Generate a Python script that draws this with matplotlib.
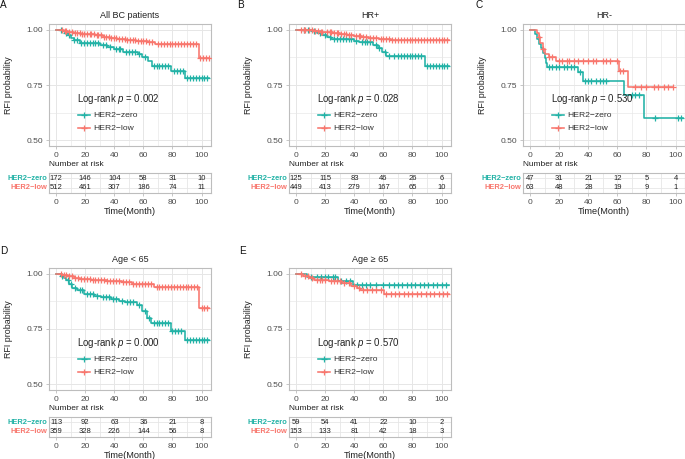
import matplotlib
matplotlib.use('Agg')
import matplotlib.pyplot as plt
import numpy as np
from matplotlib.transforms import blended_transform_factory

plt.rcParams['font.family'] = ['Liberation Sans', 'DejaVu Sans']
plt.rcParams['mathtext.fontset'] = 'custom'
plt.rcParams['mathtext.it'] = 'Liberation Sans:italic'
plt.rcParams['mathtext.rm'] = 'Liberation Sans'

ZERO_C = '#22B2A6'
LOW_C = '#F8766D'
GROUPS = ['HER2\u2212zero', 'HER2\u2212low']
RISK_TIMES = [0, 20, 40, 60, 80, 100]
X_TICKS = [0, 20, 40, 60, 80, 100]
Y_TICKS = [0.50, 0.75, 1.00]
Y_TICKLABELS = ['0.50', '0.75', '1.00']

# ---------------- Panel A: All BC patients ----------------
A_zero_t = [0, 4, 6, 8, 10, 12, 16, 30, 35, 40, 46, 56, 59, 63, 66, 79, 88.5]
A_zero_s = [1, 0.994, 0.985, 0.975, 0.964, 0.953, 0.941, 0.93, 0.921, 0.912, 0.897, 0.89, 0.877, 0.857, 0.836, 0.814, 0.781]
A_zero_end = 105
A_zero_cens = [3, 7, 9, 12, 14, 17, 19, 21, 23, 25, 27, 29, 32, 34, 37, 41, 43, 44, 48, 50, 52, 54, 57, 61, 67, 69, 71, 73, 75, 77, 81, 83, 85, 87, 90, 92, 94, 96, 98, 100, 102, 104]
A_low_t = [0, 5, 8, 12, 17, 22, 27, 32, 37, 42, 48, 55, 63, 68, 98.4]
A_low_s = [1, 0.995, 0.99, 0.986, 0.982, 0.978, 0.974, 0.968, 0.962, 0.957, 0.952, 0.948, 0.943, 0.937, 0.870]
A_low_end = 105
A_low_cens = [4, 6, 7, 9, 11, 13, 14, 16, 18, 19, 21, 23, 24, 26, 28, 29, 31, 33, 34, 36, 38, 40, 41, 43, 45, 47, 49, 51, 53, 54, 56, 58, 60, 62, 64, 66, 70, 72, 74, 76, 78, 80, 82, 84, 86, 88, 90, 92, 94, 96, 99, 101, 103, 105]
A_risk_zero = [172, 146, 104, 58, 31, 10]
A_risk_low = [512, 461, 307, 186, 74, 11]

# ---------------- Panel B: HR+ ----------------
B_zero_t = [0, 10, 14, 18, 21, 24, 40, 43, 53, 56, 59, 62, 88.4]
B_zero_s = [1, 0.992, 0.985, 0.977, 0.968, 0.957, 0.95, 0.942, 0.93, 0.917, 0.9, 0.882, 0.835]
B_zero_end = 105
B_zero_cens = [5, 8, 12, 16, 20, 23, 26, 28, 30, 32, 34, 36, 38, 41, 45, 47, 49, 51, 55, 57, 61, 64, 67, 70, 72, 74, 76, 78, 80, 82, 84, 86, 90, 92, 94, 96, 98, 100, 102, 104]
B_low_t = [0, 8, 12, 16, 20, 25, 30, 35, 40, 45, 50, 57, 65]
B_low_s = [1, 0.996, 0.993, 0.99, 0.987, 0.983, 0.98, 0.976, 0.972, 0.968, 0.963, 0.958, 0.953]
B_low_end = 105
B_low_cens = [3, 5, 6, 9, 11, 13, 15, 17, 18, 21, 23, 24, 26, 28, 29, 31, 33, 34, 36, 38, 41, 43, 44, 46, 48, 51, 53, 55, 58, 60, 62, 64, 66, 68, 70, 72, 74, 76, 78, 80, 82, 84, 86, 88, 90, 92, 94, 96, 98, 100, 102, 104]
B_risk_zero = [125, 115, 83, 46, 26, 6]
B_risk_low = [449, 413, 279, 167, 65, 10]

# ---------------- Panel C: HR- ----------------
C_zero_t = [0, 3.5, 4.5, 6, 7.5, 9, 10, 10.8, 11.6, 33, 36, 64.8, 78.5]
C_zero_s = [1, 0.979, 0.957, 0.936, 0.915, 0.894, 0.872, 0.851, 0.83, 0.807, 0.768, 0.704, 0.603]
C_zero_end = 105
C_zero_cens = [13, 15, 18, 20, 23, 25, 28, 30, 34, 38, 40, 42, 45, 48, 50, 52, 70, 72, 75, 86, 102, 104]
C_low_t = [0, 4.5, 5.8, 6.9, 8.8, 10.4, 12.7, 17.4, 61.3, 67.3]
C_low_s = [1, 0.984, 0.968, 0.94, 0.912, 0.891, 0.876, 0.856, 0.815, 0.742]
C_low_end = 98
C_low_cens = [6, 9, 13, 15, 20, 22, 25, 27, 30, 33, 36, 40, 43, 45, 50, 52, 55, 60, 62, 64, 72, 76, 80, 85, 88, 92, 95, 98]
C_risk_zero = [47, 31, 21, 12, 5, 4]
C_risk_low = [63, 48, 28, 19, 9, 1]

# ---------------- Panel D: Age < 65 ----------------
D_zero_t = [0, 3, 5, 7, 9, 11, 14.5, 19, 26, 30.6, 37.5, 43, 47, 55.8, 59.3, 62.7, 65, 78.8, 88.6]
D_zero_s = [1, 0.99, 0.98, 0.97, 0.955, 0.936, 0.924, 0.909, 0.901, 0.894, 0.886, 0.876, 0.871, 0.856, 0.833, 0.8, 0.776, 0.741, 0.70]
D_zero_end = 105
D_zero_cens = [4, 8, 10, 13, 16, 18, 21, 23, 25, 28, 32, 34, 36, 39, 41, 45, 49, 51, 53, 57, 61, 64, 67, 69, 71, 73, 75, 77, 80, 82, 84, 86, 90, 92, 94, 96, 98, 100, 102, 104]
D_low_t = [0, 4, 8, 12, 16, 24, 35, 45, 52, 67, 98.4]
D_low_s = [1, 0.995, 0.99, 0.982, 0.975, 0.97, 0.965, 0.96, 0.955, 0.938, 0.844]
D_low_end = 105
D_low_cens = [3, 5, 7, 9, 11, 13, 15, 17, 19, 21, 23, 25, 27, 29, 31, 33, 35, 37, 39, 41, 43, 46, 48, 50, 53, 55, 57, 59, 61, 63, 65, 69, 71, 73, 75, 77, 79, 81, 83, 85, 87, 89, 91, 93, 95, 97, 100, 102, 104]
D_risk_zero = [113, 92, 63, 36, 21, 8]
D_risk_low = [359, 328, 226, 144, 56, 8]

# ---------------- Panel E: Age >= 65 ----------------
E_zero_t = [0, 7.3, 29, 39.3]
E_zero_s = [1, 0.983, 0.966, 0.947]
E_zero_end = 105
E_zero_cens = [10, 14, 17, 20, 22, 25, 27, 31, 34, 37, 42, 45, 48, 51, 55, 60, 64, 67, 70, 73, 76, 79, 82, 85, 88, 91, 94, 97, 100, 103]
E_low_t = [0, 4.6, 9, 12, 22.8, 31.5, 38, 42, 44, 60.5]
E_low_s = [1, 0.99, 0.98, 0.972, 0.966, 0.958, 0.946, 0.936, 0.928, 0.907]
E_low_end = 105
E_low_cens = [3, 6, 8, 11, 14, 16, 18, 20, 24, 26, 28, 30, 33, 36, 40, 43, 46, 49, 52, 55, 58, 62, 65, 68, 71, 74, 77, 80, 83, 86, 89, 92, 95, 98, 101, 104]
E_risk_zero = [59, 54, 41, 22, 10, 2]
E_risk_low = [153, 133, 81, 42, 18, 3]

PANELS = [
    dict(letter='A', title='All BC patients', p='0.002', x0=49, row=0,
         zero=(A_zero_t, A_zero_s, A_zero_end, A_zero_cens), low=(A_low_t, A_low_s, A_low_end, A_low_cens),
         risk=(A_risk_zero, A_risk_low), lx=3.5, ly=5),
    dict(letter='B', title='HR+', p='0.028', x0=289, row=0,
         zero=(B_zero_t, B_zero_s, B_zero_end, B_zero_cens), low=(B_low_t, B_low_s, B_low_end, B_low_cens),
         risk=(B_risk_zero, B_risk_low), lx=240, ly=5),
    dict(letter='C', title='HR-', p='0.530', x0=523, row=0,
         zero=(C_zero_t, C_zero_s, C_zero_end, C_zero_cens), low=(C_low_t, C_low_s, C_low_end, C_low_cens),
         risk=(C_risk_zero, C_risk_low), lx=479, ly=5),
    dict(letter='D', title='Age < 65', p='0.000', x0=49, row=1,
         zero=(D_zero_t, D_zero_s, D_zero_end, D_zero_cens), low=(D_low_t, D_low_s, D_low_end, D_low_cens),
         risk=(D_risk_zero, D_risk_low), lx=4, ly=251),
    dict(letter='E', title='Age \u2265 65', p='0.570', x0=289, row=1,
         zero=(E_zero_t, E_zero_s, E_zero_end, E_zero_cens), low=(E_low_t, E_low_s, E_low_end, E_low_cens),
         risk=(E_risk_zero, E_risk_low), lx=242, ly=251),
]

W, H = 685, 459
fig = plt.figure(figsize=(6.85, 4.59), dpi=100)


def rect(l, t, r, b):
    return [l / W, 1 - b / H, (r - l) / W, (b - t) / H]


BORDER = '#BDBDBD'
GRID = '#E6E6E6'
TXT = '#4D4D4D'
XLIM = (-5, 106.5)


def style_axes(ax):
    for s in ax.spines.values():
        s.set_color(BORDER)
        s.set_linewidth(0.8)
    ax.tick_params(colors=TXT, labelsize=6.0, length=2.5, width=0.6, pad=1.5)
    ax.tick_params(axis='both', which='both', color=BORDER)


def draw_km(ax, data, color):
    t, s, end, cens = data
    xs = list(t) + [end]
    ys = list(s) + [s[-1]]
    ax.step(xs, ys, where='post', color=color, lw=1.15, zorder=3)
    idx = np.searchsorted(np.array(t), np.array(cens), side='right') - 1
    cy = np.array(s)[idx]
    ax.plot(cens, cy, linestyle='none', marker='+', ms=3.8, mew=0.9, color=color, zorder=3)


for P in PANELS:
    dy = 244 * P['row']
    x0 = P['x0']
    x1 = x0 + 162
    ax = fig.add_axes(rect(x0, 24 + dy, x1, 146 + dy))
    ax.set_xlim(*XLIM)
    ax.set_ylim(0.475, 1.025)
    ax.set_xticks(X_TICKS)
    ax.set_xticks([10, 30, 50, 70, 90], minor=True)
    ax.set_yticks(Y_TICKS)
    ax.set_yticklabels(Y_TICKLABELS)
    ax.set_yticks([0.625, 0.875], minor=True)
    ax.tick_params(which='minor', length=0)
    ax.grid(True, which='major', color=GRID, lw=0.7, zorder=0)
    ax.grid(True, which='minor', color=GRID, lw=0.45, zorder=0)
    ax.set_axisbelow(True)
    style_axes(ax)
    ax.set_ylabel('RFI probability', fontsize=6.4, color='#222222')
    ax.yaxis.set_label_coords(-0.222, 0.5)
    ax.text(0.5, 1.066, P['title'], transform=ax.transAxes, ha='center', va='center', fontsize=6.5, color='#222222')

    draw_km(ax, P['zero'], ZERO_C)
    draw_km(ax, P['low'], LOW_C)

    # in-plot legend
    ax.text(14, 0.686, 'Log-rank $p$ = ' + P['p'], ha='left', va='center', fontsize=6.9, color='#222222')
    for yy, col, lab in [(0.613, ZERO_C, GROUPS[0]), (0.554, LOW_C, GROUPS[1])]:
        ax.plot([15, 23], [yy, yy], color=col, lw=1.15)
        ax.plot([19], [yy], marker='+', ms=3.8, mew=0.9, color=col)
        ax.text(25.5, yy, lab, ha='left', va='center', fontsize=6.1, color='#333333')

    # panel letter
    fig.text(P['lx'] / W, 1 - P['ly'] / H, P['letter'], ha='center', va='center', fontsize=7.2, color='#111111')

    # risk table
    tb = fig.add_axes(rect(x0, 173 + dy, x1, 193 + dy))
    tb.set_xlim(*XLIM)
    tb.set_ylim(-0.55, 1.55)
    tb.set_xticks(X_TICKS)
    tb.set_xticks([10, 30, 50, 70, 90], minor=True)
    tb.set_yticks([0, 1])
    tb.set_yticklabels([])
    tb.tick_params(axis='y', length=0)
    tb.tick_params(which='minor', length=0)
    tb.grid(True, which='both', axis='x', color=GRID, lw=0.6, zorder=0)
    tb.grid(True, which='major', axis='y', color=GRID, lw=0.6, zorder=0)
    style_axes(tb)
    tb.tick_params(axis='y', length=0)
    rz, rl = P['risk']
    for tt, v in zip(RISK_TIMES, rz):
        tb.text(tt, 1, str(v), ha='center', va='center', fontsize=5.5, color='#222222')
    for tt, v in zip(RISK_TIMES, rl):
        tb.text(tt, 0, str(v), ha='center', va='center', fontsize=5.5, color='#222222')
    tr = blended_transform_factory(tb.transAxes, tb.transData)
    tb.text(-0.012, 1, GROUPS[0], transform=tr, ha='right', va='center', fontsize=5.4, color=ZERO_C, fontweight='bold')
    tb.text(-0.012, 0, GROUPS[1], transform=tr, ha='right', va='center', fontsize=5.4, color=LOW_C, fontweight='bold')
    tb.text(0.0, 1.45, 'Number at risk', transform=tb.transAxes, ha='left', va='center', fontsize=6.0, color='#222222')
    tb.text(0.5, -0.9, 'Time(Month)', transform=tb.transAxes, ha='center', va='center', fontsize=6.7, color='#222222')

fig.savefig('out.png', dpi=100)
